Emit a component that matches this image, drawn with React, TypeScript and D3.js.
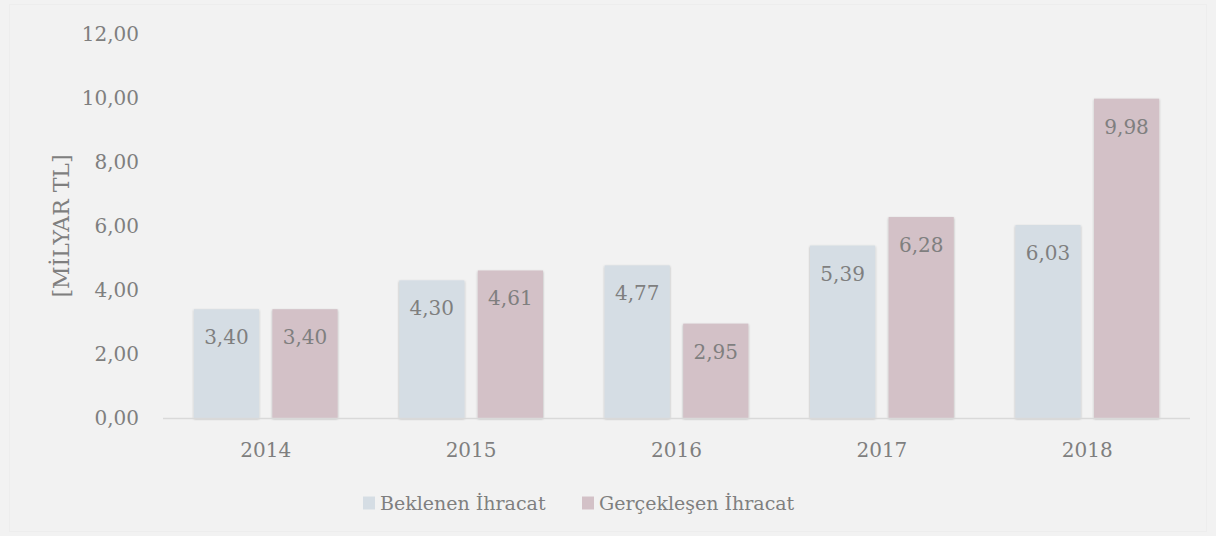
import React from "react";
import * as d3 from "d3";

const width = 1216;
const height = 536;
const margin = { left: 163, right: 26, top: 34, bottom: 118 }; // plot area
const font = "'DejaVu Serif', serif";
const textColor = "#7f7f7f";

const years = ["2014", "2015", "2016", "2017", "2018"];
const expected = [3.4, 4.3, 4.77, 5.39, 6.03]; // Beklenen İhracat
const actual = [3.4, 4.61, 2.95, 6.28, 9.98]; // Gerçekleşen İhracat
const seriesNames = ["Beklenen İhracat", "Gerçekleşen İhracat"];
const seriesColors = ["#d5dde4", "#d3c1c7"];
const yTicks = [0, 2, 4, 6, 8, 10, 12];

const tr = d3.formatLocale({
  decimal: ",",
  thousands: ".",
  grouping: [3],
  currency: ["", " TL"],
});
const fmt = tr.format(".2f");

const x = d3
  .scaleBand<string>()
  .domain(years)
  .range([margin.left, width - margin.right])
  .paddingInner(0.3)
  .paddingOuter(0.15);

const xInner = d3
  .scaleBand<number>()
  .domain([0, 1])
  .range([0, x.bandwidth()])
  .paddingInner(0.17);

const y = d3
  .scaleLinear()
  .domain([0, 12])
  .range([height - margin.bottom, margin.top]);

const App = () => {
  const series = [expected, actual];
  return (
    <svg
      width={width}
      height={height}
      style={{ position: "absolute", left: 0, top: 0 }}
      fontFamily={font}
    >
      <defs>
        <filter id="barShadow" x="-20%" y="-10%" width="140%" height="120%">
          <feDropShadow dx="0" dy="1" stdDeviation="1.3" floodColor="#000" floodOpacity="0.3" />
        </filter>
      </defs>
      <rect x={0} y={0} width={width} height={height} fill="#f2f2f2" />
      <rect x={9.5} y={4.5} width={width - 19} height={height - 9} fill="#f2f2f2" stroke="#ededed" />

      {/* y axis labels */}
      {yTicks.map((t) => (
        <text
          key={t}
          x={139}
          y={y(t)}
          dy="0.35em"
          textAnchor="end"
          fontSize={20}
          fill={textColor}
        >
          {fmt(t)}
        </text>
      ))}
      <text
        transform={`translate(69, ${(y(0) + y(12)) / 2}) rotate(-90)`}
        textAnchor="middle"
        fontSize={22}
        fill={textColor}
      >
        [MİLYAR TL]
      </text>

      {/* bars */}
      {years.map((yr, i) => (
        <g key={yr} transform={`translate(${x(yr)}, 0)`}>
          {series.map((s, j) => (
            <g key={j}>
              <rect
                x={xInner(j)}
                y={y(s[i])}
                width={xInner.bandwidth()}
                height={y(0) - y(s[i])}
                fill={seriesColors[j]}
                filter="url(#barShadow)"
              />
              <text
                x={(xInner(j) as number) + xInner.bandwidth() / 2}
                y={y(s[i]) + 28}
                dy="0.35em"
                textAnchor="middle"
                fontSize={20}
                fill={textColor}
              >
                {fmt(s[i])}
              </text>
            </g>
          ))}
        </g>
      ))}

      {/* x axis */}
      <line
        x1={margin.left}
        x2={width - margin.right}
        y1={y(0) + 0.5}
        y2={y(0) + 0.5}
        stroke="#d9d9d9"
        strokeWidth={1.5}
      />
      {years.map((yr) => (
        <text
          key={yr}
          x={(x(yr) as number) + x.bandwidth() / 2}
          y={450}
          dy="0.35em"
          textAnchor="middle"
          fontSize={20}
          fill={textColor}
        >
          {yr}
        </text>
      ))}

      {/* legend */}
      <g transform="translate(363, 503)">
        {seriesNames.map((name, j) => (
          <g key={name} transform={`translate(${j * 219}, 0)`}>
            <rect x={0} y={-6.5} width={12} height={13} fill={seriesColors[j]} />
            <text x={17} dy="0.35em" fontSize={19} fill={textColor}>
              {name}
            </text>
          </g>
        ))}
      </g>
    </svg>
  );
};

export default App;
